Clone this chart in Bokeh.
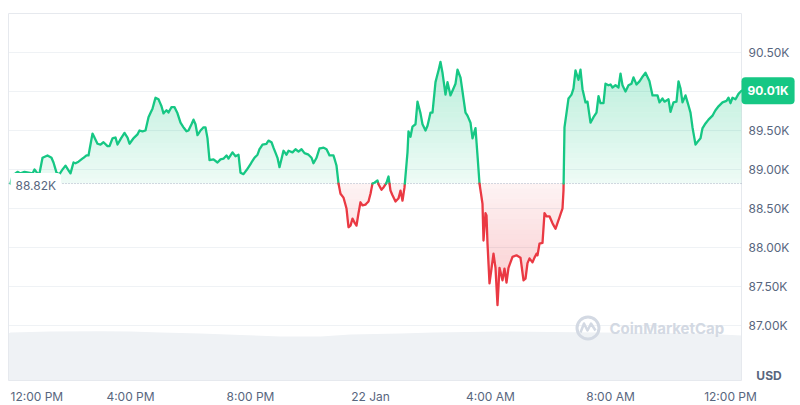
import numpy as np
from bokeh.plotting import figure
from bokeh.models import Range1d, Label
from bokeh.core.properties import value
from bokeh.embed import file_html
from bokeh.resources import INLINE

# minutes since 12:00 PM, 21 Jan
minutes = [0,4,10,14,20,28,36,44,48,54,58,64,74,82,86,92,98,104,110,116,120,126,130,136,146,152,156,164,168,174,
           180,186,194,198,204,210,214,222,228,234,238,246,254,258,264,270,276,284,290,296,302,306,312,316,322,328,334,340,346,352,
           356,362,366,370,374,380,386,390,394,398,406,414,420,426,432,436,444,450,456,460,466,474,482,488,494,498,504,512,516,522,
           526,534,538,546,552,556,564,570,576,582,588,596,602,606,612,618,626,632,638,646,652,656,660,666,672,676,680,684,688,692,
           696,700,704,710,716,720,724,728,734,736,742,746,752,756,760,764,770,776,780,784,788,794,796,800,804,810,814,820,824,830,
           834,840,844,850,856,860,864,870,874,880,884,890,894,900,904,910,914,920,924,930,934,938,944,946,950,952,954,958,966,970,
           974,978,984,988,992,996,1004,1012,1020,1026,1030,1034,1038,1044,1048,1052,1054,1058,1064,1068,1072,1078,1084,1090,1096,1104,1106,1108,1116,1122,
           1126,1130,1136,1140,1144,1150,1154,1160,1166,1172,1176,1180,1186,1190,1196,1200,1204,1210,1216,1220,1224,1230,1236,1242,1246,1252,1258,1264,1270,1278,
           1284,1294,1298,1304,1308,1316,1320,1326,1332,1336,1340,1344,1350,1356,1360,1364,1370,1376,1380,1384,1390,1396,1404,1410,1416,1424,1432,1436,1440,1444,
           1450,1456,1462]
price = [88820,88920,88950,88970,88950,88970,88960,88950,89000,88950,88950,89150,89180,89150,89090,88960,88940,89000,89050,88990,
         88950,89090,89080,89100,89150,89180,89180,89460,89410,89330,89320,89350,89300,89300,89400,89410,89320,89410,89470,89410,
         89330,89400,89450,89500,89490,89500,89670,89780,89920,89900,89810,89720,89760,89730,89800,89800,89720,89600,89540,89490,
         89500,89580,89640,89580,89440,89500,89540,89540,89400,89120,89130,89090,89130,89140,89180,89140,89220,89170,89190,88960,
         88940,89010,89090,89150,89190,89260,89320,89330,89370,89350,89280,89150,89030,89240,89190,89240,89220,89260,89230,89260,
         89210,89190,89150,89080,89150,89270,89280,89260,89180,89180,89050,88820,88690,88640,88500,88260,88280,88370,88320,88280,
         88440,88580,88540,88550,88590,88690,88820,88830,88860,88810,88740,88770,88830,88910,88730,88670,88590,88630,88730,88600,
         88770,89220,89490,89420,89550,89580,89870,89720,89580,89500,89560,89730,89730,90120,90270,90380,90240,89960,90120,89950,
         90010,90100,90280,90180,90000,89730,89690,89600,89400,89530,89180,88820,88560,88090,88440,88410,88050,87540,87920,87740,
         87260,87740,87580,87730,87550,87740,87880,87900,87870,87580,87600,87800,87860,87810,87870,87920,87900,88050,88060,88440,
         88400,88400,88310,88240,88350,88500,88730,89540,89910,89960,90040,90270,90150,90280,90030,89860,89870,89600,89670,89730,
         89940,89850,89850,90100,90080,90090,90050,90080,90050,90230,90080,90000,90080,90100,90180,90090,90130,90190,90240,90130,
         89950,89950,89860,89910,89870,89900,89740,89860,89870,90130,90040,89860,89950,89820,89730,89540,89320,89370,89400,89530,
         89590,89640,89690,89760,89810,89860,89880,89920,89850,89920,89900,89970,90010]

# 24h volume (USD billions)
vol_minutes = [-4, 0, 80, 180, 240, 300, 380, 460, 540, 620, 680, 780, 846, 980, 1080, 1180, 1280, 1380, 1462]
volume_b = [46.7, 47.7, 48.7, 49.0, 48.7, 47.7, 46.7, 45.3, 43.8, 43.8, 45.7, 46.7, 47.7, 48.7, 48.2, 47.7, 47.2, 46.7, 44.8]

open_price = 88820
x_tick_minutes = [0, 240, 480, 720, 960, 1200, 1440]
x_tick_labels = ["12:00 PM", "4:00 PM", "8:00 PM", "22 Jan", "4:00 AM", "8:00 AM", "12:00 PM"]
y_tick_values = [87000, 87500, 88000, 88500, 89000, 89500, 90000, 90500]
y_tick_labels = [f"{v/1000:.2f}K" for v in y_tick_values]

GREEN = "#16c784"
RED = "#ea3943"
GRAY = "#58667e"
FONT = "Inter"

# plot area in data units
PA_TOP, PA_BOT = 91000, 86295
PA_LEFT, PA_RIGHT = -4, 1462
PX_PER_K = 78.0  # pixels per 1000 USD


def at_x(page_x):
    return 2.0 * (page_x - 10)


def at_y(page_y):
    return PA_TOP - (page_y - 13) * 1000.0 / PX_PER_K


W, H = 800, 405
p = figure(width=W, height=H,
           x_range=Range1d(at_x(0), at_x(W)), y_range=Range1d(at_y(H), at_y(0)),
           x_axis_location=None, y_axis_location=None,
           output_backend="svg", toolbar_location=None,
           min_border_left=0, min_border_right=0, min_border_top=0, min_border_bottom=0,
           background_fill_color="white", border_fill_color="white",
           outline_line_color=None)
p.grid.visible = False

# volume band (own scale: 0 at plot-area bottom)
vk = 367.0 / 365.0
p.extra_y_ranges = {"vol": Range1d(-(H - 380) / vk, 380 / vk)}
p.varea(x=vol_minutes, y1=0, y2=volume_b, y_range_name="vol", fill_color="#eff2f5")

# horizontal grid
p.segment(x0=PA_LEFT, x1=PA_RIGHT, y0=y_tick_values, y1=y_tick_values,
          line_color="#eff2f5", line_width=1)
# plot-area frame
p.quad(left=PA_LEFT, right=PA_RIGHT, top=PA_TOP, bottom=PA_BOT,
       fill_color=None, line_color="#e6e9ee", line_width=1)

# price line prepared for rendering: insert crossings at gradient band levels
xs = np.array(minutes, float)
ys = np.array(price, float)
top, bot = ys.max(), ys.min()
N = 24
g_levels = [open_price + (top - open_price) * k / N for k in range(N + 1)]
r_levels = [open_price - (open_price - bot) * k / N for k in range(N + 1)]
levels = sorted(set(g_levels + r_levels))


def refine(x, y, lv):
    X = [x[0]]; Y = [y[0]]
    for i in range(1, len(x)):
        x0, y0, x1, y1 = x[i - 1], y[i - 1], x[i], y[i]
        if y1 != y0:
            cross = [L for L in lv if min(y0, y1) < L < max(y0, y1)]
            cross.sort(reverse=(y1 < y0))
            for L in cross:
                t = (L - y0) / (y1 - y0)
                X.append(x0 + t * (x1 - x0)); Y.append(L)
        X.append(x1); Y.append(y1)
    return np.array(X), np.array(Y)


X, Y = refine(xs, ys, levels)

for k in range(N):
    lo, hi = g_levels[k], g_levels[k + 1]
    a = 0.07 + 0.23 * (k + 0.5) / N
    p.varea(x=X, y1=lo, y2=np.clip(Y, lo, hi), fill_color=GREEN, fill_alpha=a)
for k in range(N):
    hi, lo = r_levels[k], r_levels[k + 1]
    a = 0.06 + 0.22 * (k + 0.5) / N
    p.varea(x=X, y1=hi, y2=np.clip(Y, lo, hi), fill_color=RED, fill_alpha=a)

# baseline (open price)
p.line(x=[PA_LEFT, PA_RIGHT], y=[open_price, open_price], line_color="#a6b0c3",
       line_dash="1 2", line_width=1)

# coloured line runs
runs_x, runs_y, runs_c = [], [], []
cur_x, cur_y, cur_c = [X[0]], [Y[0]], None
for j in range(len(X) - 1):
    mid = (Y[j] + Y[j + 1]) / 2
    c = GREEN if mid >= open_price else RED
    if cur_c is None:
        cur_c = c
    if c != cur_c:
        runs_x.append(cur_x); runs_y.append(cur_y); runs_c.append(cur_c)
        cur_x, cur_y, cur_c = [X[j]], [Y[j]], c
    cur_x.append(X[j + 1]); cur_y.append(Y[j + 1])
runs_x.append(cur_x); runs_y.append(cur_y); runs_c.append(cur_c)
p.multi_line(xs=runs_x, ys=runs_y, line_color=runs_c, line_width=2.3,
             line_join="round", line_cap="round")

# y tick labels
p.text(x=at_x(748), y=y_tick_values, text=y_tick_labels, text_font=value(FONT),
       text_font_size="12px", text_color=GRAY, text_align="left", text_baseline="middle")

# x tick labels (first one clamped to the left edge)
p.text(x=x_tick_minutes[:1], y=at_y(396), text=x_tick_labels[:1], text_font=value(FONT),
       text_font_size="12px", text_color=GRAY, text_align="left", text_baseline="middle")
p.text(x=x_tick_minutes[1:], y=at_y(396), text=x_tick_labels[1:], text_font=value(FONT),
       text_font_size="12px", text_color=GRAY, text_align="center", text_baseline="middle")

p.text(x=[at_x(768.5)], y=[at_y(375)], text=["USD"], text_font=value(FONT),
       text_font_size="12px", text_font_style="bold", text_color=GRAY,
       text_align="center", text_baseline="middle")

# open price tag
p.add_layout(Label(x=at_x(10), y=at_y(185), text=f"{open_price/1000:.2f}K",
                   text_font=FONT, text_font_size="12px", text_color=GRAY,
                   text_align="left", text_baseline="middle",
                   background_fill_color="white", background_fill_alpha=1.0,
                   padding=5, border_radius=4))

# current price badge
p.add_layout(Label(x=at_x(741), y=price[-1], text=f"{price[-1]/1000:.2f}K",
                   text_font=FONT, text_font_size="12px", text_font_style="bold",
                   text_color="white", text_align="left", text_baseline="middle",
                   background_fill_color=GREEN, background_fill_alpha=1.0,
                   padding=6, border_radius=4))

# watermark
WM = "#d3d9e3"
p.scatter(x=[at_x(587.5)], y=[at_y(327.5)], size=22, fill_color=None,
          line_color=WM, line_width=3)
p.line(x=[at_x(v) for v in (580, 583.5, 587, 590.5, 595)],
       y=[at_y(v) for v in (332, 323, 330, 323, 330)],
       line_color=WM, line_width=2.5, line_join="round")
p.text(x=[at_x(609)], y=[at_y(328)], text=["CoinMarketCap"], text_font=value(FONT),
       text_font_size="15px", text_font_style="bold", text_color=WM,
       text_align="left", text_baseline="middle")

open("out.html", "w").write(file_html(p, INLINE))
